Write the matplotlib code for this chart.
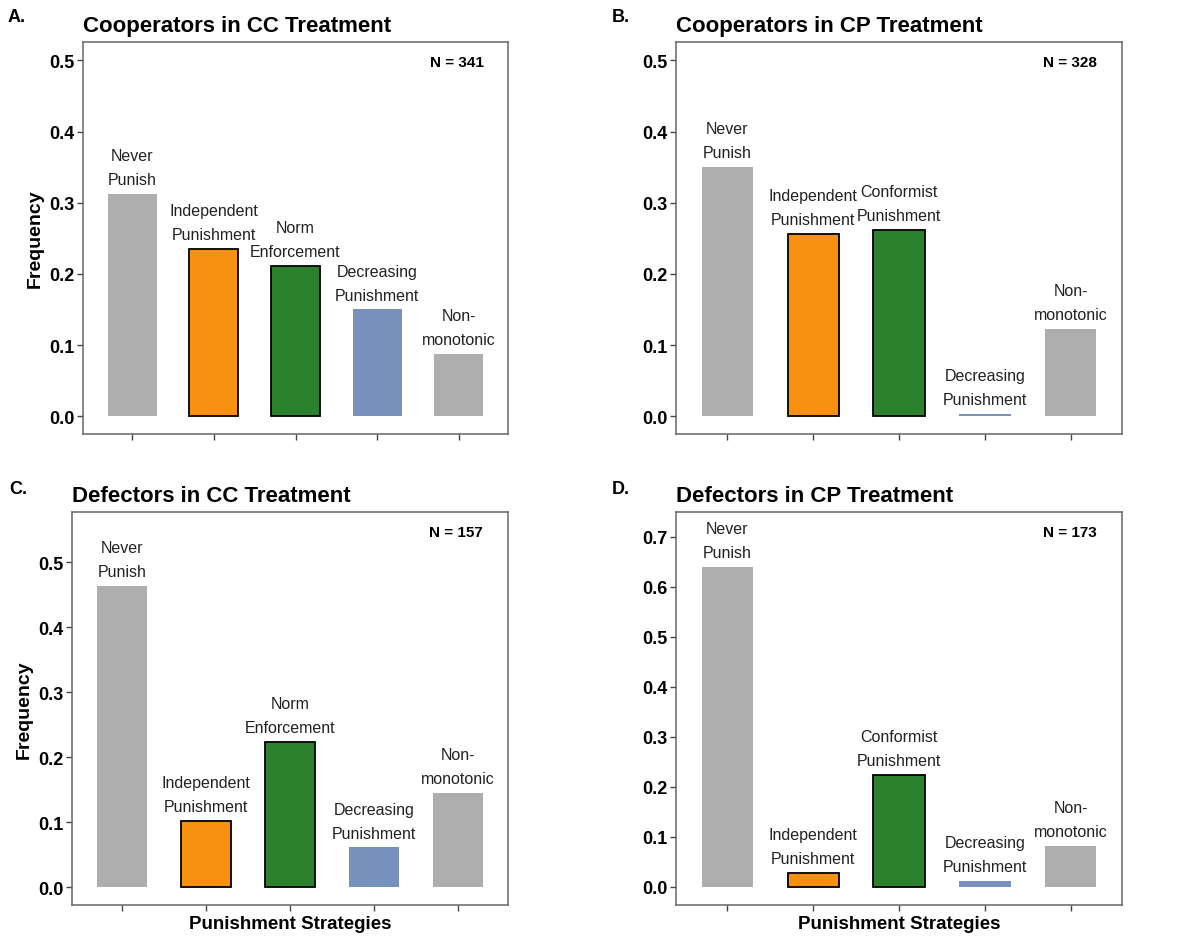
import matplotlib
matplotlib.use("Agg")
import matplotlib.pyplot as plt
import numpy as np

plt.rcParams['font.family'] = ['Liberation Sans', 'DejaVu Sans']

# data
positions = [1, 2, 3, 4, 5]
labels_cc = ["Never\nPunish", "Independent\nPunishment", "Norm\nEnforcement",
             "Decreasing\nPunishment", "Non-\nmonotonic"]
labels_cp = ["Never\nPunish", "Independent\nPunishment", "Conformist\nPunishment",
             "Decreasing\nPunishment", "Non-\nmonotonic"]

coop_cc = [0.313, 0.235, 0.211, 0.150, 0.087]
coop_cp = [0.350, 0.256, 0.262, 0.003, 0.122]
defect_cc = [0.463, 0.102, 0.223, 0.061, 0.145]
defect_cp = [0.640, 0.028, 0.225, 0.013, 0.083]

n_values = [341, 328, 157, 173]
titles = ["Cooperators in CC Treatment", "Cooperators in CP Treatment",
          "Defectors in CC Treatment", "Defectors in CP Treatment"]
letters = ["A.", "B.", "C.", "D."]

bar_colors = ["#AEAEAE", "#F7910F", "#2C822C", "#7791BC", "#AEAEAE"]
bar_edges = ["none", "black", "black", "none", "none"]

W, H = 1187, 937
fig = plt.figure(figsize=(W / 100, H / 100), dpi=100)

# axes boxes in pixels: left, top, right, bottom
boxes = [(83, 43, 508, 435), (676, 43, 1122, 435),
         (72, 513, 508, 906), (676, 513, 1122, 906)]
ylims = [(-0.025, 0.526), (-0.025, 0.526), (-0.0275, 0.577), (-0.036, 0.75)]
yticks = [np.arange(0, 0.51, 0.1), np.arange(0, 0.51, 0.1),
          np.arange(0, 0.51, 0.1), np.arange(0, 0.71, 0.1)]
all_values = [coop_cc, coop_cp, defect_cc, defect_cp]
all_labels = [labels_cc, labels_cp, labels_cc, labels_cp]
letter_pos = [(8, 18), (612, 18), (9, 490), (612, 490)]

for i in range(4):
    l, t, r, b = boxes[i]
    ax = fig.add_axes([l / W, 1 - b / H, (r - l) / W, (b - t) / H])
    vals = all_values[i]
    for j in range(5):
        ax.bar(positions[j], vals[j], width=0.6, color=bar_colors[j],
               edgecolor=bar_edges[j], linewidth=1.3 if bar_edges[j] != "none" else 0)
        ax.annotate(all_labels[i][j], (positions[j], vals[j]), xytext=(0, 5),
                    textcoords="offset points", ha="center", va="bottom",
                    fontsize=11.5, color="#222222", linespacing=1.75)
    ax.set_xlim(0.4, 5.6)
    ax.set_ylim(*ylims[i])
    ax.set_yticks(yticks[i])
    ax.set_yticklabels([f"{v:.1f}" for v in yticks[i]], fontsize=13, fontweight="bold")
    ax.set_xticks(positions)
    ax.set_xticklabels([])
    ax.tick_params(length=4, color="#444444", width=1, pad=2)
    for s in ax.spines.values():
        s.set_color("#666666")
        s.set_linewidth(1.1)
    ax.set_title(titles[i], loc="left", fontsize=16, fontweight="bold", pad=8)
    ax.text(0.943, 0.95, f"N = {n_values[i]}", transform=ax.transAxes,
            ha="right", va="center", fontsize=11, fontweight="bold")
    if i in (0, 2):
        ax.set_ylabel("Frequency", fontsize=14, fontweight="bold", labelpad=4)
    if i in (2, 3):
        ax.set_xlabel("Punishment Strategies", fontsize=13.5, fontweight="bold", labelpad=1)
    fig.text(letter_pos[i][0] / W, 1 - letter_pos[i][1] / H, letters[i],
             fontsize=13, fontweight="bold", va="center", ha="left")

fig.savefig("out.png", dpi=100)
